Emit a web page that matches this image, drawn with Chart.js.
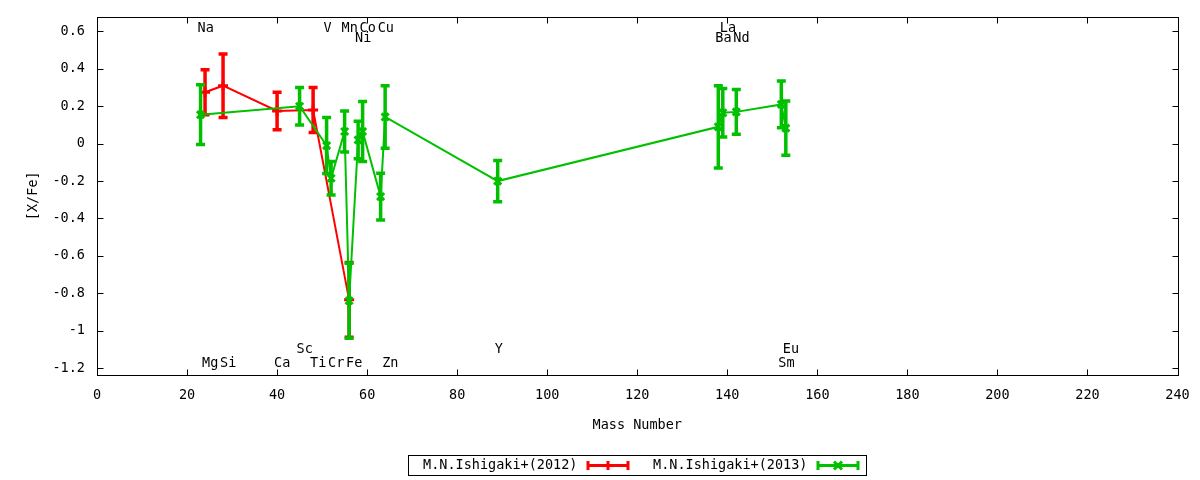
<!DOCTYPE html>
<html>
<head>
<meta charset="utf-8">
<title>[X/Fe] vs Mass Number</title>
<script src="https://cdn.jsdelivr.net/npm/chart.js@4.4.1/dist/chart.umd.min.js"></script>
<style>
  html, body { margin: 0; padding: 0; background: #fff; }
  #wrap { position: relative; width: 1200px; height: 480px; }
</style>
</head>
<body>
<div id="wrap"><canvas id="abundanceChart"></canvas></div>
<script>
'use strict';

/* [X/Fe] against mass number, two data sets
 * values
 */
var massNumbers2012 = [24, 28, 40, 48, 56];
var xfe2012 = [0.275, 0.31, 0.175, 0.18, -0.835];
var err2012 = [0.12, 0.17, 0.10, 0.12, 0.20];

var massNumbers2013 = [23, 45, 51, 52, 55, 56, 58, 59, 63, 64, 89, 138, 139, 142, 152, 153];
var xfe2013 = [0.155, 0.20, -0.01, -0.185, 0.065, -0.84, 0.02, 0.065, -0.283, 0.143, -0.20, 0.09, 0.165, 0.17, 0.21, 0.083];
var err2013 = [0.16, 0.10, 0.15, 0.09, 0.11, 0.20, 0.10, 0.16, 0.125, 0.167, 0.11, 0.22, 0.13, 0.12, 0.125, 0.145];

var elementNames = ['Na', 'Mg', 'Si', 'Ca', 'Sc', 'Ti', 'V', 'Cr', 'Mn', 'Fe',
  'Ni', 'Co', 'Cu', 'Zn', 'Y', 'Ba', 'La', 'Nd', 'Sm', 'Eu'];
var elementMass = [23, 24, 28, 40, 45, 48, 51, 52, 55, 56,
  58, 59, 63, 64, 89, 138, 139, 142, 152, 153];

var seriesNames = ['M.N.Ishigaki+(2012)', 'M.N.Ishigaki+(2013)'];

// where the element names sit (rows, in [X/Fe] units)
var rowValue = [0.616, 0.561, -1.103, -1.178];
var labelRow = {
  Na: 0, V: 0, Mn: 0, Co: 0, Cu: 0, La: 0,
  Ni: 1, Ba: 1, Nd: 1,
  Sc: 2, Y: 2, Eu: 2,
  Mg: 3, Si: 3, Ca: 3, Ti: 3, Cr: 3, Fe: 3, Zn: 3, Sm: 3
};

var FONT = "'DejaVu Sans Mono', monospace";
var RED = '#ff0000';
var GREEN = '#00c000';

function toPoints(xs, ys) {
  return xs.map(function (x, i) {
    return { x: x, y: ys[i] };
  });
}

var errorBarPlugin = {
  id: 'errorBars',
  beforeDatasetDraw: function (chart, args) {
    var ds = chart.data.datasets[args.index];
    var yScale = chart.scales.y;
    var ctx = chart.ctx;
    ctx.save();
    ctx.strokeStyle = ds.borderColor;
    ctx.lineWidth = 3.5;
    args.meta.data.forEach(function (pt, i) {
      var v = ds.data[i].y;
      var e = ds.errors[i];
      var top = yScale.getPixelForValue(v + e);
      var bot = yScale.getPixelForValue(v - e);
      ctx.beginPath();
      ctx.moveTo(pt.x, top);
      ctx.lineTo(pt.x, bot);
      ctx.moveTo(pt.x - 4.5, top);
      ctx.lineTo(pt.x + 4.5, top);
      ctx.moveTo(pt.x - 4.5, bot);
      ctx.lineTo(pt.x + 4.5, bot);
      ctx.stroke();
    });
    ctx.restore();
  }
};

var labelPlugin = {
  id: 'elementLabels',
  afterDatasetsDraw: function (chart) {
    var ctx = chart.ctx;
    var xs = chart.scales.x;
    var ys = chart.scales.y;
    ctx.save();
    ctx.font = '13.5px ' + FONT;
    ctx.fillStyle = '#000';
    ctx.textAlign = 'left';
    ctx.textBaseline = 'middle';
    elementNames.forEach(function (name, i) {
      var px = xs.getPixelForValue(elementMass[i]) - 3;
      var py = ys.getPixelForValue(rowValue[labelRow[name]]);
      ctx.fillText(name, px, py);
    });
    ctx.restore();
  }
};

var framePlugin = {
  id: 'frame',
  afterDraw: function (chart) {
    var a = chart.chartArea;
    var ctx = chart.ctx;
    var xs = chart.scales.x;
    var ys = chart.scales.y;
    var l = Math.round(a.left) + 0.5;
    var r = Math.round(a.right) + 0.5;
    var t = Math.round(a.top) + 0.5;
    var b = Math.round(a.bottom) + 0.5;
    ctx.save();
    ctx.strokeStyle = '#000';
    ctx.lineWidth = 1;
    ctx.beginPath();
    xs.ticks.forEach(function (tk) {
      var px = Math.round(xs.getPixelForValue(tk.value)) + 0.5;
      ctx.moveTo(px, b);
      ctx.lineTo(px, b - 6);
      ctx.moveTo(px, t);
      ctx.lineTo(px, t + 6);
    });
    ys.ticks.forEach(function (tk) {
      var py = Math.round(ys.getPixelForValue(tk.value)) + 0.5;
      ctx.moveTo(l, py);
      ctx.lineTo(l + 6, py);
      ctx.moveTo(r, py);
      ctx.lineTo(r - 6, py);
    });
    ctx.stroke();
    ctx.strokeRect(l, t, r - l, b - t);

    // legend box under the axis title
    var cx = (a.left + a.right) / 2;
    var boxW = 458;
    var boxH = 20;
    var bx = Math.round(cx - boxW / 2) + 0.5;
    var by = Math.round(a.bottom + 80) + 0.5;
    ctx.strokeRect(bx, by, boxW, boxH);
    ctx.font = '13.5px ' + FONT;
    ctx.fillStyle = '#000';
    ctx.textAlign = 'right';
    ctx.textBaseline = 'middle';
    var midY = by + boxH / 2;
    chart.data.datasets.slice().sort(function (p, q) {
      return q.order - p.order;
    }).forEach(function (ds, i) {
      var textEnd = bx + 169 + i * 230;
      ctx.fillText(ds.label, textEnd, midY);
      var s0 = textEnd + 9;
      var s1 = s0 + 43;
      var sm = (s0 + s1) / 2;
      ctx.strokeStyle = ds.borderColor;
      ctx.lineWidth = 3;
      ctx.beginPath();
      ctx.moveTo(s0, midY);
      ctx.lineTo(s1, midY);
      ctx.moveTo(s0 + 1.5, midY - 4.5);
      ctx.lineTo(s0 + 1.5, midY + 4.5);
      ctx.moveTo(s1 - 1.5, midY - 4.5);
      ctx.lineTo(s1 - 1.5, midY + 4.5);
      if (ds.pointStyle === 'cross') {
        ctx.moveTo(sm, midY - 4.5);
        ctx.lineTo(sm, midY + 4.5);
      } else {
        ctx.moveTo(sm - 4, midY - 4);
        ctx.lineTo(sm + 4, midY + 4);
        ctx.moveTo(sm - 4, midY + 4);
        ctx.lineTo(sm + 4, midY - 4);
      }
      ctx.stroke();
    });
    ctx.restore();
  }
};

Chart.defaults.font.family = FONT;
Chart.defaults.font.size = 13.5;
Chart.defaults.color = '#000';

new Chart(document.getElementById('abundanceChart'), {
  type: 'scatter',
  data: {
    datasets: [
      {
        label: seriesNames[0],
        data: toPoints(massNumbers2012, xfe2012),
        errors: err2012,
        showLine: true,
        borderColor: RED,
        backgroundColor: RED,
        borderWidth: 2,
        pointStyle: 'cross',
        pointRadius: 5,
        pointBorderWidth: 3,
        order: 2
      },
      {
        label: seriesNames[1],
        data: toPoints(massNumbers2013, xfe2013),
        errors: err2013,
        showLine: true,
        borderColor: GREEN,
        backgroundColor: GREEN,
        borderWidth: 2,
        pointStyle: 'crossRot',
        pointRadius: 5,
        pointBorderWidth: 3,
        order: 1
      }
    ]
  },
  options: {
    responsive: true,
    maintainAspectRatio: false,
    animation: false,
    devicePixelRatio: 1,
    layout: {
      padding: { left: 0, right: 22.5, top: 16.5, bottom: 45 }
    },
    plugins: {
      legend: { display: false },
      tooltip: { enabled: false }
    },
    scales: {
      x: {
        type: 'linear',
        min: 0,
        max: 240,
        grid: { display: false },
        border: { display: false },
        ticks: { stepSize: 20, padding: 4, maxRotation: 0 },
        title: { display: true, text: 'Mass Number', padding: { top: 0, bottom: 1 } },
        afterFit: function (scale) {
          scale.height = 60;
        }
      },
      y: {
        min: -1.237,
        max: 0.68,
        grid: { display: false },
        border: { display: false },
        ticks: {
          stepSize: 0.2,
          includeBounds: false,
          padding: 4,
          callback: function (v) {
            return String(Math.round(v * 10) / 10);
          }
        },
        title: { display: true, text: '[X/Fe]', padding: { top: 25, bottom: 0 } },
        afterFit: function (scale) {
          scale.width = 97;
        }
      }
    }
  },
  plugins: [errorBarPlugin, labelPlugin, framePlugin]
});
</script>
</body>
</html>
